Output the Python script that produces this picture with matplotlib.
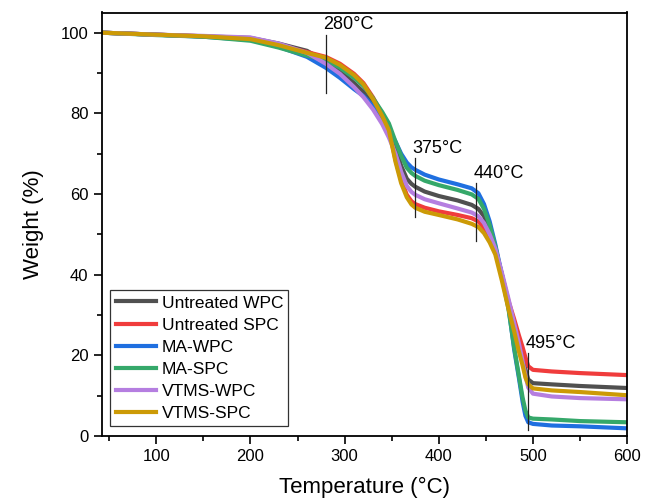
import matplotlib
matplotlib.use("Agg")
import matplotlib.pyplot as plt
from matplotlib.ticker import MultipleLocator

plt.rcParams['font.family'] = ['Liberation Sans', 'DejaVu Sans']

# TGA data (temperature in C, weight in %)
temp = [42, 100, 150, 200, 230, 260, 280, 295, 310, 320, 330, 340, 347, 354, 360, 366, 371, 375,
        385, 400, 420, 435, 442, 448, 454, 460, 467, 474, 480, 485, 489, 492, 495, 500, 520, 550, 600]

untreated_wpc = [100, 99.5, 99.1, 98.7, 97.3, 95.5, 92.8, 90.5, 87.5, 85.3, 82.3, 78.5, 75.5, 71.5, 67.0, 63.8, 62.5, 61.8,
                 60.6, 59.5, 58.4, 57.3, 56.3, 54.5, 51.0, 46.5, 40.0, 33.0, 28.0, 23.5, 19.5, 16.5, 14.0, 13.1, 12.8, 12.4, 11.9]
untreated_spc = [100, 99.5, 99.1, 98.4, 96.9, 95.2, 94.0, 92.3, 89.8, 87.5, 84.0, 79.8, 76.0, 68.5, 63.5, 59.8, 58.2, 57.5,
                 56.6, 55.7, 54.8, 54.0, 53.2, 51.6, 49.2, 46.0, 40.0, 33.5, 29.0, 25.0, 22.0, 19.5, 17.3, 16.4, 16.0, 15.6, 15.1]
ma_wpc = [100, 99.5, 99.0, 98.2, 96.5, 94.0, 91.3, 88.8, 86.0, 84.3, 81.8, 78.5, 76.0, 73.0, 70.0, 67.8, 66.6, 66.0,
          64.8, 63.6, 62.4, 61.4, 60.2, 57.5, 53.2, 47.5, 40.0, 32.0, 21.5, 14.5, 8.5, 5.0, 3.4, 3.0, 2.6, 2.4, 1.9]
ma_spc = [100, 99.4, 99.0, 98.0, 96.3, 94.3, 93.3, 91.3, 88.8, 86.8, 83.8, 80.3, 77.5, 73.0, 69.5, 66.5, 65.2, 64.5,
          63.3, 62.2, 61.0, 59.9, 58.8, 56.3, 52.3, 47.0, 39.5, 31.5, 22.0, 15.0, 9.5, 6.3, 4.6, 4.3, 4.1, 3.7, 3.4]
vtms_wpc = [100, 99.5, 99.2, 98.8, 97.3, 95.0, 92.3, 89.8, 86.5, 84.0, 81.0, 77.3, 74.0, 70.0, 65.5, 62.0, 60.5, 59.8,
            58.7, 57.7, 56.4, 55.4, 54.5, 52.8, 50.0, 46.5, 40.5, 34.0, 28.0, 23.0, 18.5, 15.0, 12.0, 10.5, 9.8, 9.4, 9.1]
vtms_spc = [100, 99.5, 99.1, 98.4, 96.9, 95.0, 93.8, 92.0, 89.5, 87.2, 83.6, 79.3, 75.8, 68.0, 62.7, 59.2, 57.4, 56.6,
            55.6, 54.8, 53.7, 52.6, 51.8, 50.3, 48.0, 45.0, 38.5, 31.5, 26.0, 21.0, 17.5, 14.5, 12.8, 11.8, 11.3, 10.9, 10.1]

series_names = ['Untreated WPC', 'Untreated SPC', 'MA-WPC', 'MA-SPC', 'VTMS-WPC', 'VTMS-SPC']
series_vals = [untreated_wpc, untreated_spc, ma_wpc, ma_spc, vtms_wpc, vtms_spc]
colors = ['#505050', '#f03c3c', '#1f6fe0', '#35a86a', '#b57ee0', '#cc9a06']

annot_temps = [280, 375, 440, 495]
annot_labels = ['280°C', '375°C', '440°C', '495°C']
# vertical extent of each marker line (weight %)
annot_spans = [(85, 99.5), (54.3, 68.9), (48.3, 62.7), (1.4, 20.5)]

fig = plt.figure(figsize=(6.56, 5.0), dpi=100)
ax = fig.add_axes([0.155, 0.128, 0.801, 0.847])

for name, vals, c in zip(series_names, series_vals, colors):
    ax.plot(temp, vals, color=c, lw=3.0, label=name, solid_joinstyle='round')

for t, lab, (y0, y1) in zip(annot_temps, annot_labels, annot_spans):
    ax.plot([t, t], [y0, y1], color='#222222', lw=0.9)
    ax.text(t - 3, y1 + 0.3, lab, fontsize=13, ha='left', va='bottom')

ax.set_xlim(42, 600)
ax.set_ylim(0, 105)
ax.xaxis.set_major_locator(MultipleLocator(100))
ax.xaxis.set_minor_locator(MultipleLocator(50))
ax.yaxis.set_major_locator(MultipleLocator(20))
ax.yaxis.set_minor_locator(MultipleLocator(10))
ax.tick_params(which='major', direction='out', length=6, width=1.2, labelsize=12)
ax.tick_params(which='minor', direction='out', length=3.5, width=1.2)
for s in ax.spines.values():
    s.set_linewidth(1.3)

ax.set_xlabel('Temperature (°C)', fontsize=16, labelpad=9)
ax.set_ylabel('Weight (%)', fontsize=16, labelpad=12)

leg = ax.legend(loc='lower left', bbox_to_anchor=(0.0166, 0.023), fontsize=12.5,
                frameon=True, fancybox=False, handlelength=2.3, labelspacing=0.4,
                borderpad=0.3, handletextpad=0.35, borderaxespad=0)
leg.get_frame().set_edgecolor('black')
leg.get_frame().set_linewidth(0.9)
for h in leg.get_lines():
    h.set_linewidth(3.0)

fig.savefig('out.png', dpi=100)
